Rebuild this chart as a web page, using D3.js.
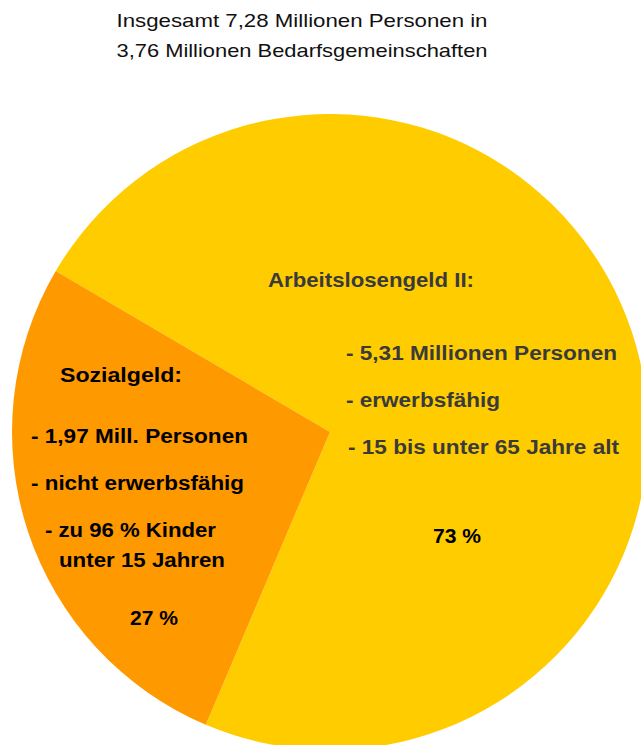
<!DOCTYPE html>
<html>
<head>
<meta charset="utf-8">
<script src="https://cdn.jsdelivr.net/npm/d3@7"></script>
<style>
  body { margin: 0; background: #fff; }
  text { font-family: "Liberation Sans", Arial, sans-serif; }
</style>
</head>
<body>
<svg id="canvas"></svg>
<script>
const svg = d3.select("#canvas");

// === data === //
const categories = ["Arbeitslosengeld II", "Sozialgeld"];
const values = [5.31, 1.97]; // Millionen Personen
const colors = ["#FFCC00", "#FF9900"];
const titleLines = ["Insgesamt 7,28 Millionen Personen in", "3,76 Millionen Bedarfsgemeinschaften"];
const algLines = ["- 5,31 Millionen Personen", "- erwerbsfähig", "- 15 bis unter 65 Jahre alt"];
const sozLines = ["- 1,97 Mill. Personen", "- nicht erwerbsfähig", "- zu 96 % Kinder", "unter 15 Jahren"];

svg
  .attr('width', 641)
  .attr('height', 745)

// pie sits a bit off the page at the right and bottom
const cx = 330, cy = 432, r = 318;

const total = d3.sum(values);
const start = 300.4 * Math.PI / 180;

const pie = d3.pie()
  .sort(null)
  .startAngle(start)
  .endAngle(start + 2 * Math.PI);

const arc = d3.arc().innerRadius(0).outerRadius(r);

svg.append('g')
  .attr('transform', `translate(${cx},${cy})`)
  .selectAll('path')
  .data(pie(values))
  .join('path')
  .attr('d', arc)
  .attr('fill', (d, i) => colors[i]);

// title
svg.selectAll('text.title')
  .data(titleLines)
  .join('text')
  .attr('class', 'title')
  .attr('x', 302)
  .attr('y', (d, i) => 27 + i * 30)
  .attr('text-anchor', 'middle')
  .attr('font-size', 18.5)
  .attr('fill', '#111')
  .attr('textLength', 371)
  .attr('lengthAdjust', 'spacingAndGlyphs')
  .text(d => d);

// helper for the bold labels inside the slices
function label(txt, x, y, w, fill) {
  svg.append('text')
    .attr('x', x)
    .attr('y', y)
    .attr('font-size', 19.5)
    .attr('font-weight', 'bold')
    .attr('fill', fill)
    .attr('textLength', w)
    .attr('lengthAdjust', 'spacingAndGlyphs')
    .text(txt);
}

// Arbeitslosengeld II
label(categories[0] + ":", 268, 287, 206, '#3a3a3a');
label(algLines[0], 346, 360, 271, '#3a3a3a');
label(algLines[1], 346, 407, 154, '#3a3a3a');
label(algLines[2], 348, 454, 271, '#3a3a3a');
label(d3.format('.0%')(values[0] / total).replace('%', ' %'), 433, 543, 48, '#000');

// Sozialgeld
label(categories[1] + ":", 60, 382, 122, '#000');
label(sozLines[0], 31, 443, 217, '#000');
label(sozLines[1], 31, 490, 213, '#000');
label(sozLines[2], 45, 537, 171, '#000');
label(sozLines[3], 59, 567, 166, '#000');
label(d3.format('.0%')(values[1] / total).replace('%', ' %'), 130, 625, 48, '#000');
</script>
</body>
</html>
